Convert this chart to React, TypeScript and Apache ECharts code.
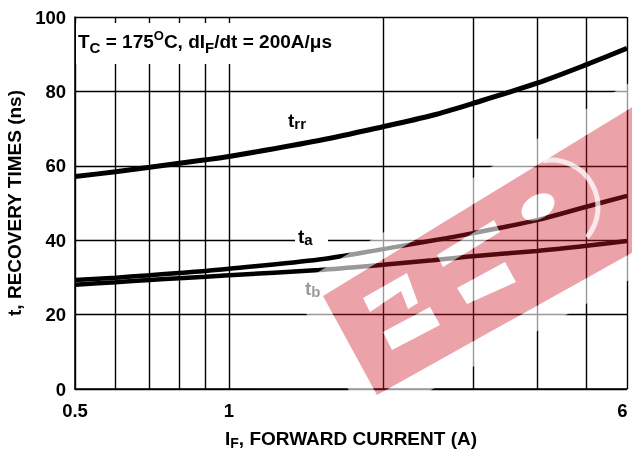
import React, { useEffect, useRef } from "react";
import * as echarts from "echarts";

// ---------- data ----------
const currentA = [0.5, 0.6, 0.7, 0.8, 0.9, 1, 1.5, 2, 2.5, 3, 4, 5, 6];
const trrNs = [57.1, 58.4, 59.6, 60.7, 61.6, 62.5, 66.8, 70.5, 73.6, 76.8, 82.2, 87.2, 91.6];
const taNs = [29.3, 29.9, 30.6, 31.2, 31.7, 32.3, 34.8, 37.6, 39.9, 41.9, 45.4, 49.0, 51.9];
const tbNs = [28.0, 28.7, 29.3, 29.8, 30.2, 30.6, 32.0, 33.4, 34.6, 35.7, 37.1, 38.5, 39.8];
const xGridValues = [0.5, 0.6, 0.7, 0.8, 0.9, 1, 2, 3, 4, 5, 6];
const xLabelValues = [0.5, 1, 6];

// ---------- watermark geometry (decoration) ----------
type Pt = [number, number];
const band: Pt[] = [[323, 296], [680, 78], [680, 226], [377, 395]];
const halo: Pt[] = [[292, 288], [680, 52], [680, 252], [368, 425]];
const ellipsePts = (cx: number, cy: number, rx: number, ry: number, rot: number, n = 20): Pt[] => {
  const out: Pt[] = [];
  for (let i = 0; i < n; i++) {
    const t = (i / n) * Math.PI * 2;
    const c = Math.cos(rot), s = Math.sin(rot);
    out.push([cx + rx * Math.cos(t) * c - ry * Math.sin(t) * s, cy + rx * Math.cos(t) * s + ry * Math.sin(t) * c]);
  }
  return out;
};
const letters: Pt[][] = [
  [[363, 298], [407, 273], [418, 303], [408, 309], [401, 291], [370, 312]],
  [[383, 332], [430, 307], [440, 325], [392, 350]],
  [[437, 255], [494, 220], [500, 232], [443, 267]],
  [[457, 288], [505, 262], [516, 282], [467, 304]],
  ellipsePts(538, 207, 18, 12, (-31 * Math.PI) / 180),
];
const poly = (pts: Pt[], reverse = false) => {
  const p = reverse ? [...pts].reverse() : pts;
  return "M" + p.map((q) => q[0].toFixed(1) + " " + q[1].toFixed(1)).join(" L") + " Z";
};
const bandPath = poly(band) + " " + letters.map((l) => poly(l, true)).join(" ");
const haloPath = poly(halo) + " " + poly(band, true) + " " + letters.map((l) => poly(l)).join(" ");
echarts.graphic.registerShape("wmBand", echarts.graphic.extendPath(bandPath, {}));
echarts.graphic.registerShape("wmHalo", echarts.graphic.extendPath(haloPath, {}));

const FF = "Liberation Sans, Arial, Helvetica, sans-serif";
const mainTok = (lh: number) => ({ fontSize: 19, fontWeight: "bold", fontFamily: FF, lineHeight: lh, fill: "#000" });
const subTok = { fontSize: 15, fontWeight: "bold", fontFamily: FF, lineHeight: 15, verticalAlign: "bottom", fill: "#000" };
const tickFont = { color: "#000", fontSize: 18.5, fontWeight: "bold", fontFamily: FF };

export default function App() {
  const ref = useRef<HTMLDivElement>(null);
  useEffect(() => {
    if (!ref.current) return;
    const chart = echarts.init(ref.current, undefined, { renderer: "svg" });
    const lineSeries = (name: string, vals: number[], w: number) => ({
      name,
      type: "line",
      data: currentA.map((x, i) => [x, vals[i]]),
      showSymbol: false,
      smooth: 0.3,
      lineStyle: { color: "#000", width: w },
      silent: true,
    });
    const lastLabel = xLabelValues[xLabelValues.length - 1];
    chart.setOption({
      animation: false,
      grid: { left: 75, right: 5, top: 17, bottom: 61, containLabel: false, outerBoundsMode: "none" },
      xAxis: {
        type: "log",
        logBase: 10,
        min: 0.5,
        max: 6,
        name: "{m|I}{s|F}{m|, FORWARD CURRENT (A)}",
        nameLocation: "middle",
        nameGap: 37,
        nameTextStyle: {
          rich: {
            m: { fontSize: 19, fontWeight: "bold", fontFamily: FF, color: "#000", lineHeight: 24 },
            s: { fontSize: 14, fontWeight: "bold", fontFamily: FF, color: "#000", lineHeight: 14, verticalAlign: "bottom" },
          },
        },
        axisLine: { show: true, lineStyle: { color: "#000", width: 1.5 } },
        axisTick: { show: false, customValues: xGridValues },
        axisLabel: {
          customValues: xLabelValues,
          showMinLabel: true,
          showMaxLabel: true,
          margin: 12,
          ...tickFont,
          formatter: (v: number) => (v === lastLabel ? "{r|" + v + "}" : "{n|" + v + "}"),
          rich: { n: { ...tickFont }, r: { ...tickFont, padding: [0, 9, 0, 0] } },
        },
        splitLine: { show: true, lineStyle: { color: "#000", width: 1.4 } },
      },
      yAxis: {
        type: "value",
        min: 0,
        max: 100,
        interval: 20,
        name: "t, RECOVERY TIMES (ns)",
        nameLocation: "middle",
        nameGap: 47,
        nameTextStyle: { fontSize: 19, fontWeight: "bold", fontFamily: FF, color: "#000" },
        axisLine: { show: true, lineStyle: { color: "#000", width: 1.5 } },
        axisTick: { show: false },
        axisLabel: { margin: 9, ...tickFont },
        splitLine: { show: true, lineStyle: { color: "#000", width: 1.4 } },
      },
      series: [lineSeries("trr", trrNs, 5), lineSeries("ta", taNs, 4.5), lineSeries("tb", tbNs, 4.5)],
      graphic: [
        { type: "rect", z: 9, silent: true, shape: { x: 76, y: 23, width: 274, height: 41 }, style: { fill: "#fff" } },
        {
          type: "text",
          z: 10,
          x: 78,
          y: 28.7,
          silent: true,
          style: {
            text: "{m|T}{s|C}{m| = 175}{p|O}{m|C, dI}{s|F}{m|/dt = 200A/μs}",
            verticalAlign: "top",
            rich: {
              m: mainTok(26),
              s: subTok,
              p: { fontSize: 13, fontWeight: "bold", fontFamily: FF, lineHeight: 19, verticalAlign: "top", fill: "#000" },
            },
          },
        },
        {
          type: "text",
          z: 10,
          x: 288,
          y: 109.1,
          silent: true,
          style: { text: "{m|t}{s|rr}", verticalAlign: "top", rich: { m: mainTok(22), s: subTok } },
        },
        { type: "rect", z: 9, silent: true, shape: { x: 295, y: 234, width: 33, height: 12 }, style: { fill: "#fff" } },
        {
          type: "text",
          z: 10,
          x: 298,
          y: 225.4,
          silent: true,
          style: { text: "{m|t}{s|a}", verticalAlign: "top", rich: { m: mainTok(22), s: subTok } },
        },
        {
          type: "text",
          z: 10,
          x: 305,
          y: 277.4,
          silent: true,
          style: { text: "{m|t}{s|b}", verticalAlign: "top", rich: { m: mainTok(22), s: subTok } },
        },
        // watermark stamp
        { type: "wmHalo", z: 50, silent: true, style: { fill: "rgba(255,255,255,0.6)" } },
        { type: "wmBand", z: 51, silent: true, style: { fill: "rgba(205,25,40,0.40)" } },
        {
          type: "arc",
          z: 52,
          silent: true,
          shape: { cx: 551, cy: 207, r: 47, startAngle: -1.74, endAngle: 0.7, clockwise: true },
          style: { stroke: "rgba(255,255,255,0.75)", lineWidth: 5, fill: null },
        },
      ],
    });
    return () => chart.dispose();
  }, []);
  return <div ref={ref} style={{ position: "fixed", left: 0, top: 0, width: 632, height: 450 }} />;
}
